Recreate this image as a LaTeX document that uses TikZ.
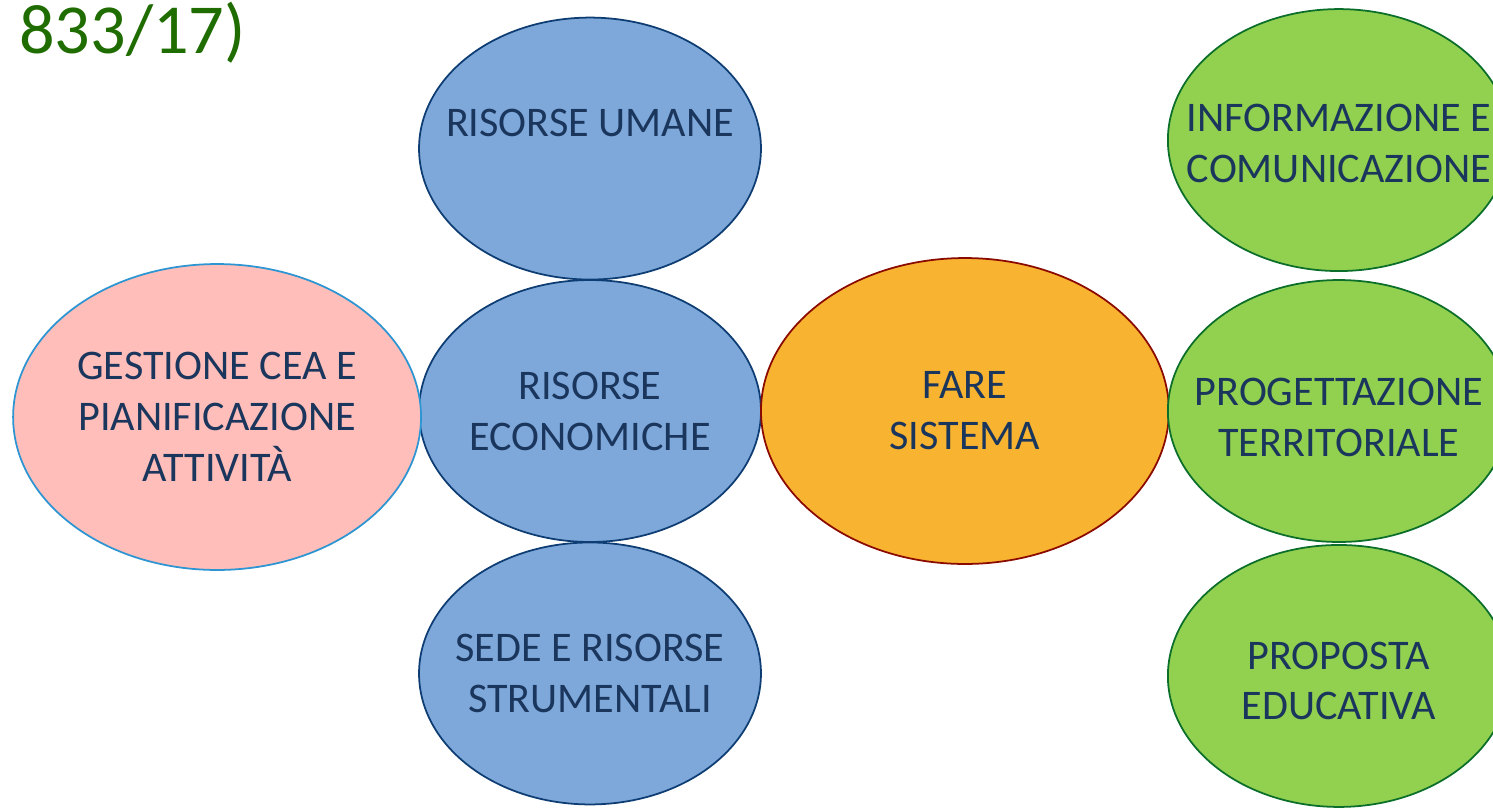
\documentclass[tikz,border=0pt]{standalone}
\usepackage{fontspec}
\setmainfont{Carlito}
\usetikzlibrary{positioning}
\usetikzlibrary{shapes.geometric}

\definecolor{navytext}{HTML}{1B365D}
\definecolor{titlegreen}{HTML}{1F6C00}
\definecolor{bluefill}{HTML}{7EA8DA}
\definecolor{bluedraw}{HTML}{0E3D73}
\definecolor{pinkfill}{HTML}{FFBEB9}
\definecolor{pinkdraw}{HTML}{2E95D3}
\definecolor{orangefill}{HTML}{F8B330}
\definecolor{orangedraw}{HTML}{8B0A00}
\definecolor{greenfill}{HTML}{92D050}
\definecolor{greendraw}{HTML}{0B6E2A}

\begin{document}
\begin{tikzpicture}[x=0.02cm,y=-0.02cm,node distance=5.25cm and 7.48cm,on grid,
    bubble/.style={ellipse,draw,line width=1pt,inner sep=0pt},
    every label/.style={align=center,text=navytext,font=\fontsize{24}{29}\selectfont},
    small/.style={bubble,minimum width=6.84cm,minimum height=5.24cm},
    big/.style={bubble,minimum width=8.16cm,minimum height=6.12cm},
    res/.style={small,fill=bluefill,draw=bluedraw},
    area/.style={small,fill=greenfill,draw=greendraw}]
      % \draw[help lines] (0,0) grid (3,2);
    \clip (0,0) rectangle (1493,809);

    \node[anchor=base west,text=titlegreen,font=\fontsize{40}{48}\selectfont] (titolo) at (13,53) {833/17)};

    \node[res, label=center:{RISORSE\\ECONOMICHE}]                   (economiche) at (590,411) {};
    \node[res, above=of economiche, label=center:{RISORSE UMANE\\\mbox{}}]   (umane) {};
    \node[res, below=of economiche, label=center:{SEDE E RISORSE\\STRUMENTALI}] (sede) {};
    \node[big, fill=pinkfill, draw=pinkdraw, left=7.46cm of economiche, yshift=-0.12cm,
          label=center:{GESTIONE CEA E\\PIANIFICAZIONE\\ATTIVITÀ}]    (gestione) {};
    \node[big, fill=orangefill, draw=orangedraw, right=7.5cm of economiche,
          label=center:{FARE\\SISTEMA}]                                (sistema) {};
    \node[area, right=of sistema, label={[yshift=-0.12cm]center:{PROGETTAZIONE\\TERRITORIALE}}]   (progettazione) {};
    \node[area, above=5.42cm of progettazione, label={[yshift=-0.06cm]center:{INFORMAZIONE E\\COMUNICAZIONE}}] (informazione) {};
    \node[area, below=5.3cm of progettazione, label={[yshift=-0.1cm]center:{PROPOSTA\\EDUCATIVA}}]      (proposta) {};
  \end{tikzpicture}
\end{document}
